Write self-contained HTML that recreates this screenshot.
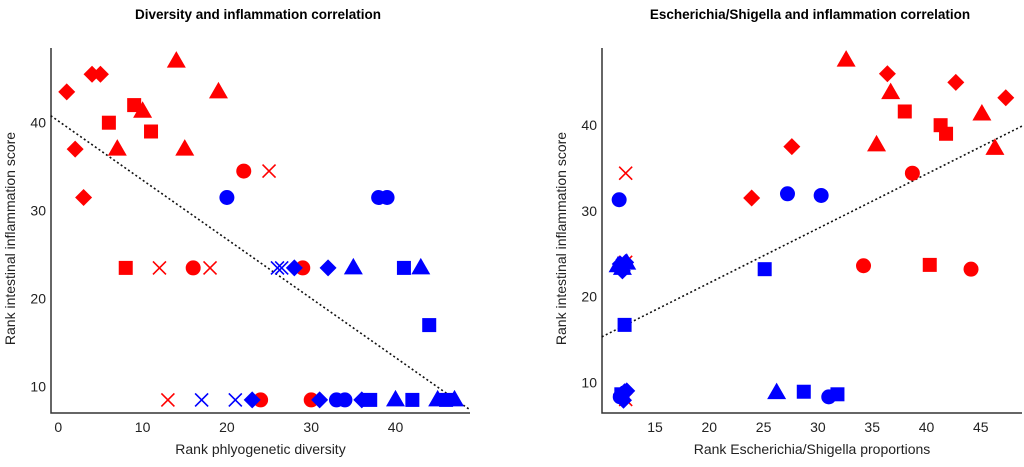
<!DOCTYPE html>
<html><head><meta charset="utf-8"><style>
body{margin:0;background:#fff;width:1024px;height:462px;overflow:hidden;font-family:"Liberation Sans",sans-serif}
svg text{font-family:"Liberation Sans",sans-serif}
</style></head><body>
<svg id="c" width="1024" height="462"></svg>
<script>
// Left panel data: [x, y]
const leftRedDiamond=[[1,43.5],[4,45.5],[5,45.5],[2,37],[3,31.5]];
const leftRedTriangle=[[14,47],[19,43.5],[10,41.3],[7,37],[15,37]];
const leftRedSquare=[[9,42],[6,40],[11,39],[8,23.5]];
const leftRedCircle=[[22,34.5],[16,23.5],[29,23.5],[24,8.5],[30,8.5]];
const leftRedCross=[[25,34.5],[12,23.5],[18,23.5],[13,8.5]];
const leftBlueCircle=[[20,31.5],[38,31.5],[39,31.5],[33,8.5],[34,8.5]];
const leftBlueCross=[[26,23.5],[26.5,23.5],[17,8.5],[21,8.5]];
const leftBlueDiamond=[[28,23.5],[32,23.5],[23,8.5],[31,8.5],[36,8.5]];
const leftBlueTriangle=[[35,23.5],[43,23.5],[40,8.5],[45,8.5],[47,8.5]];
const leftBlueSquare=[[41,23.5],[44,17],[37,8.5],[42,8.5],[46,8.5]];
const leftFit=[[-0.9,40.8],[48.8,7.4]];
const leftXTicks=[0,10,20,30,40];
const yTicks=[10,20,30,40];
// Right panel data
const rightRedTriangle=[[32.6,47.6],[36.7,43.8],[35.4,37.7],[45.1,41.3],[46.3,37.3]];
const rightRedDiamond=[[36.4,46],[42.7,45],[47.3,43.2],[27.6,37.5],[23.9,31.5]];
const rightRedSquare=[[38,41.6],[41.3,40],[41.8,39],[40.3,23.7]];
const rightRedCircle=[[38.7,34.4],[34.2,23.6],[44.1,23.2]];
const rightRedCross=[[12.3,34.4],[12.3,24],[12.3,8]];
const rightBlueCircle=[[11.7,31.3],[27.2,32],[30.3,31.8],[31,8.3],[11.8,8.3]];
const rightBlueSquare=[[25.1,23.2],[12.2,16.7],[28.7,8.9],[31.8,8.6],[11.9,8.6],[12,23.4]];
const rightBlueTriangle=[[26.2,8.8],[11.6,23.6],[12.4,23.9],[12,23.3]];
const rightBlueDiamond=[[12.1,23.4],[12.3,24],[11.8,23.8],[12.2,8.9],[11.9,8.2],[12.4,9],[12,23],[11.9,8.6],[12.1,7.9]];
const rightBlueCross=[[12,23.6]];
const rightFit=[[10.1,15.3],[48.8,39.9]];
const rightXTicks=[15,20,25,30,35,40,45];

const svg=document.getElementById('c');
const NS='http://www.w3.org/2000/svg';
function el(tag,attrs,parent){const e=document.createElementNS(NS,tag);for(const k in attrs)e.setAttribute(k,attrs[k]);(parent||svg).appendChild(e);return e;}

function panel(o){
  const g=el('g',{});
  
  
  const sx=v=>o.x0+(v-o.xv0)*o.xs, sy=v=>o.y0-(v-o.yv0)*o.ys;
  const t=el('text',{x:o.tx,y:19,'text-anchor':'middle','font-size':13.5,'font-weight':'bold',fill:'#000'},g);
  t.textContent=o.title;
  
  
  const ax=el('path',{d:`M${o.L},${o.T}V${o.B}H${o.R}`,stroke:'#333',fill:'none','stroke-width':1.5},g);
  
  
  o.xt.forEach(v=>{
    const tx=el('text',{x:sx(v),y:o.B+19,'text-anchor':'middle','font-size':14,fill:'#222'},g);tx.textContent=v;
    
    
  });
  yTicks.forEach(v=>{
    const ty=el('text',{x:o.L-5,y:sy(v)+5,'text-anchor':'end','font-size':14,fill:'#222'},g);ty.textContent=v;
    
    
  });
  const xl=el('text',{x:(o.L+o.R)/2,y:o.B+41,'text-anchor':'middle','font-size':14,fill:'#222'},g);xl.textContent=o.xlabel;
  
  
  const yl=el('text',{x:0,y:0,'text-anchor':'middle','font-size':14,fill:'#222',transform:`translate(${o.L-36},${(o.T+o.B)/2+8}) rotate(-90)`},g);yl.textContent='Rank intestinal inflammation score';
  
  
  const f=o.fit;
  const ln=el('line',{x1:sx(f[0][0]),y1:sy(f[0][1]),x2:sx(f[1][0]),y2:sy(f[1][1]),stroke:'#111','stroke-width':1.6,'stroke-dasharray':'2,2.5'},g);
  
  
  o.series.forEach(([pts,shape,col])=>{
    pts.forEach(([a,b])=>{
      const x=sx(a),y=sy(b);let m;
      if(shape==='circle')m=el('circle',{cx:x,cy:y,r:7.5,fill:col},g);
      else if(shape==='square')m=el('rect',{x:x-7,y:y-7,width:14,height:14,fill:col},g);
      else if(shape==='triangle')m=el('polygon',{points:`${x},${y-10} ${x-9.5},${y+6.5} ${x+9.5},${y+6.5}`,fill:col},g);
      else if(shape==='diamond')m=el('polygon',{points:`${x},${y-8.5} ${x+8.5},${y} ${x},${y+8.5} ${x-8.5},${y}`,fill:col},g);
      else m=el('path',{d:`M${x-6.5},${y-6.5}L${x+6.5},${y+6.5}M${x-6.5},${y+6.5}L${x+6.5},${y-6.5}`,stroke:col,'stroke-width':1.6,fill:'none'},g);
      
      
    });
  });
}
const R='#ff0000',B='#0000ff';
panel({name:'diversity-panel',title:'Diversity and inflammation correlation',tx:258,L:51,R:470,T:48,B:413,
  x0:58.3,xv0:0,xs:8.43,y0:386.7,yv0:10,ys:8.8,xt:leftXTicks,xlabel:'Rank phlyogenetic diversity',fit:leftFit,
  series:[[leftRedDiamond,'diamond',R],[leftRedTriangle,'triangle',R],[leftRedSquare,'square',R],[leftRedCircle,'circle',R],[leftRedCross,'cross',R],
  [leftBlueCircle,'circle',B],[leftBlueCross,'cross',B],[leftBlueDiamond,'diamond',B],[leftBlueTriangle,'triangle',B],[leftBlueSquare,'square',B]]});
panel({name:'escherichia-panel',title:'Escherichia/Shigella and inflammation correlation',tx:810,L:602,R:1022,T:48,B:413,
  x0:655,xv0:15,xs:10.86,y0:382.3,yv0:10,ys:8.57,xt:rightXTicks,xlabel:'Rank Escherichia/Shigella proportions',fit:rightFit,
  series:[[rightRedTriangle,'triangle',R],[rightRedDiamond,'diamond',R],[rightRedSquare,'square',R],[rightRedCircle,'circle',R],[rightRedCross,'cross',R],
  [rightBlueCircle,'circle',B],[rightBlueSquare,'square',B],[rightBlueTriangle,'triangle',B],[rightBlueDiamond,'diamond',B],[rightBlueCross,'cross',B]]});
</script>
</body></html>
